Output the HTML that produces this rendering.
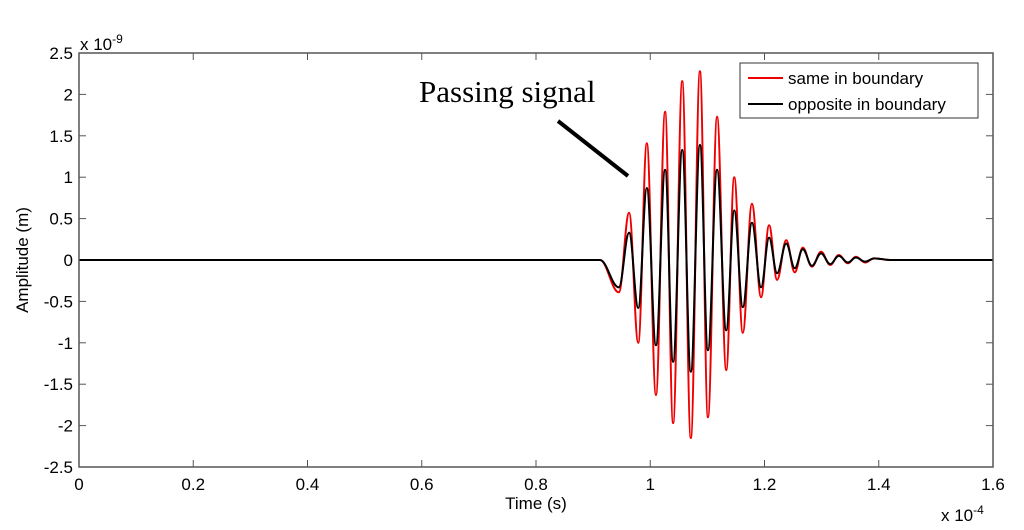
<!DOCTYPE html>
<html><head><meta charset="utf-8">
<style>
html,body{margin:0;padding:0;background:#fff;}
svg{display:block;}
text{font-family:"Liberation Sans",sans-serif;}
</style></head>
<body>
<svg id="chart" width="1024" height="530" viewBox="0 0 1024 530">
  <rect x="0" y="0" width="1024" height="530" fill="#fff"/>
  <g id="axes"></g>
  <g id="series"></g>
  <rect x="79" y="53" width="914" height="414" fill="none" stroke="#555" stroke-width="1.5"/>
  <text x="80" y="50" font-size="17" fill="#000">x 10<tspan dy="-7" font-size="12">-9</tspan></text>
  <text x="941" y="521" font-size="17" fill="#000">x 10<tspan dy="-7" font-size="12">-4</tspan></text>
  <text x="536" y="509" font-size="17" text-anchor="middle" fill="#000">Time (s)</text>
  <text transform="translate(28,260) rotate(-90)" font-size="17" text-anchor="middle" fill="#000">Amplitude (m)</text>
  <text x="419" y="102" font-size="31" fill="#000" style="font-family:'Liberation Serif',serif">Passing signal</text>
  <line x1="558" y1="121" x2="628" y2="176" stroke="#000" stroke-width="4"/>
  <g>
    <rect x="740" y="63" width="238" height="55" fill="#fff" stroke="#333" stroke-width="1"/>
    <line x1="748" y1="78" x2="783" y2="78" stroke="#e00" stroke-width="2"/>
    <text x="788" y="84" font-size="17" fill="#000">same in boundary</text>
    <line x1="748" y1="104" x2="783" y2="104" stroke="#000" stroke-width="2"/>
    <text x="788" y="110" font-size="17" fill="#000">opposite in boundary</text>
  </g>
</svg>
<script>
const xTicks = [0, 0.2, 0.4, 0.6, 0.8, 1, 1.2, 1.4, 1.6];
const xTickLabels = ["0","0.2","0.4","0.6","0.8","1","1.2","1.4","1.6"];
const yTicks = [-2.5,-2,-1.5,-1,-0.5,0,0.5,1,1.5,2,2.5];
const yTickLabels = ["-2.5","-2","-1.5","-1","-0.5","0","0.5","1","1.5","2","2.5"];
const times = [0,0.912,0.945,0.963,0.979,0.994,1.010,1.026,1.040,1.056,1.071,1.087,1.101,1.117,1.133,1.147,1.162,1.178,1.194,1.208,1.222,1.238,1.253,1.267,1.283,1.299,1.315,1.330,1.346,1.360,1.376,1.392,1.42,1.6];
const sameValues = [0,0,-0.39,0.57,-1.0,1.41,-1.63,1.79,-1.97,2.16,-2.15,2.28,-1.9,1.73,-1.33,1.0,-0.88,0.68,-0.45,0.42,-0.24,0.24,-0.15,0.15,-0.08,0.1,-0.06,0.06,-0.04,0.04,-0.03,0.02,0,0];
const oppositeValues = [0,0,-0.33,0.33,-0.58,0.87,-1.03,1.09,-1.23,1.33,-1.35,1.39,-1.09,1.09,-0.85,0.6,-0.57,0.45,-0.33,0.27,-0.16,0.2,-0.1,0.13,-0.07,0.08,-0.05,0.05,-0.03,0.03,-0.02,0.02,0,0];

const X0=79, X1=993, Y0=467, Y1=53;
function xs(t){return X0+(t-0)/(1.6-0)*(X1-X0);}
function ys(v){return Y0-(v+2.5)/5*(Y0-Y1);}
const NS="http://www.w3.org/2000/svg";
const axes=document.getElementById('axes');
const series=document.getElementById('series');

xTicks.forEach((t,i)=>{
  const x=xs(t);
  const l1=document.createElementNS(NS,'line');
  l1.setAttribute('x1',x);l1.setAttribute('x2',x);l1.setAttribute('y1',Y0);l1.setAttribute('y2',Y0-7);
  l1.setAttribute('stroke','#555');
  
  
  axes.appendChild(l1);
  const l2=document.createElementNS(NS,'line');
  l2.setAttribute('x1',x);l2.setAttribute('x2',x);l2.setAttribute('y1',Y1);l2.setAttribute('y2',Y1+7);
  l2.setAttribute('stroke','#555');
  
  
  axes.appendChild(l2);
  const tx=document.createElementNS(NS,'text');
  tx.setAttribute('x',x);tx.setAttribute('y',Y0+23);tx.setAttribute('text-anchor','middle');tx.setAttribute('font-size','17');
  tx.textContent=xTickLabels[i];
  
  
  axes.appendChild(tx);
});
yTicks.forEach((v,i)=>{
  const y=ys(v);
  const l1=document.createElementNS(NS,'line');
  l1.setAttribute('x1',X0);l1.setAttribute('x2',X0+7);l1.setAttribute('y1',y);l1.setAttribute('y2',y);
  l1.setAttribute('stroke','#555');
  
  
  axes.appendChild(l1);
  const l2=document.createElementNS(NS,'line');
  l2.setAttribute('x1',X1);l2.setAttribute('x2',X1-7);l2.setAttribute('y1',y);l2.setAttribute('y2',y);
  l2.setAttribute('stroke','#555');
  
  
  axes.appendChild(l2);
  const tx=document.createElementNS(NS,'text');
  tx.setAttribute('x',X0-6);tx.setAttribute('y',y+6);tx.setAttribute('text-anchor','end');tx.setAttribute('font-size','17');
  tx.textContent=yTickLabels[i];
  
  
  axes.appendChild(tx);
});

function pathFor(vals){
  let d='M'+xs(times[0])+','+ys(vals[0]);
  for(let i=1;i<times.length;i++){
    const xa=xs(times[i-1]),ya=ys(vals[i-1]),xb=xs(times[i]),yb=ys(vals[i]);
    const dx=(xb-xa)*0.38;
    d+=' C'+(xa+dx)+','+ya+' '+(xb-dx)+','+yb+' '+xb+','+yb;
  }
  return d;
}
const red=document.createElementNS(NS,'path');
red.setAttribute('d',pathFor(sameValues));
red.setAttribute('fill','none');red.setAttribute('stroke','#e00');red.setAttribute('stroke-width','2');


series.appendChild(red);
const blk=document.createElementNS(NS,'path');
blk.setAttribute('d',pathFor(oppositeValues));
blk.setAttribute('fill','none');blk.setAttribute('stroke','#000');blk.setAttribute('stroke-width','2');


series.appendChild(blk);
</script>
</body></html>
